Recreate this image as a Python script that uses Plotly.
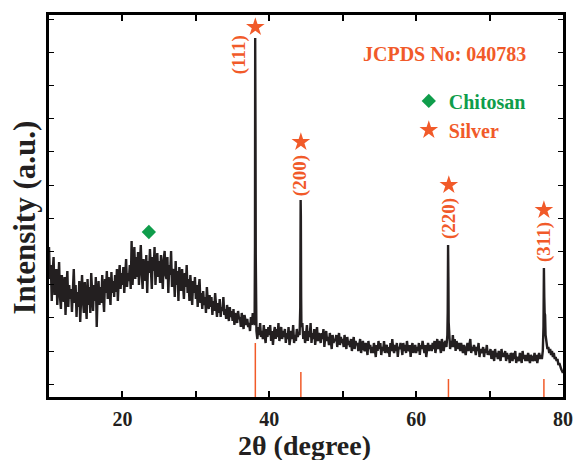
import plotly.graph_objects as go

# ---------------- data ----------------
theta_start = 10.0
theta_step = 0.125
bg_intensity = [
    150, 118, 132, 96, 125, 140, 102, 118,    # 10
    128, 92, 115, 135, 100, 88, 122, 108,     # 11
    95, 120, 82, 110, 126, 90, 112, 98,       # 12
    108, 85, 118, 128, 94, 112, 80, 105,      # 13
    90, 116, 75, 108, 122, 96, 84, 115,       # 14
    100, 78, 118, 92, 110, 84, 124, 98,       # 15
    86, 112, 96, 120, 70, 104, 116, 92,       # 16
    110, 94, 122, 100, 85, 118, 104, 126,     # 17
    98, 120, 108, 92, 125, 104, 116, 100,     # 18
    122, 105, 128, 96, 118, 132, 108, 124,    # 19
    112, 130, 104, 126, 138, 110, 124, 116,   # 20
    132, 108, 156, 112, 136, 150, 118, 140,   # 21
    120, 145, 112, 134, 152, 124, 108, 138,   # 22
    130, 116, 142, 104, 136, 124, 148, 118,   # 23
    108, 140, 126, 150, 112, 132, 144, 120,   # 24
    136, 114, 142, 126, 108, 138, 146, 122,   # 25
    118, 140, 104, 132, 122, 146, 110, 128,   # 26
    124, 100, 136, 112, 126, 96, 130, 118,    # 27
    106, 128, 114, 98, 124, 110, 132, 104,    # 28
    118, 96, 122, 108, 92, 116, 104, 120,     # 29
    98, 112, 90, 108, 118, 94, 104, 88,       # 30
    106, 92, 100, 84, 110, 96, 88, 102,       # 31
    90, 100, 82, 96, 86, 104, 92, 80,         # 32
    94, 84, 98, 80, 90, 86, 100, 82,          # 33
    88, 78, 92, 82, 76, 90, 80, 86,           # 34
    76, 88, 72, 84, 80, 74, 86, 78,           # 35
    80, 70, 84, 74, 68, 82, 76, 72,           # 36
    78, 70, 74, 66, 80, 72, 84, 76,           # 37
    72, 260, 66, 58, 70, 62, 74, 60,          # 38
    66, 58, 72, 62, 54, 68, 60, 70,           # 39
    62, 72, 56, 66, 52, 64, 70, 58,           # 40
    68, 60, 74, 56, 64, 70, 58, 66,           # 41
    60, 68, 54, 64, 58, 70, 52, 62,           # 42
    66, 58, 72, 54, 62, 56, 68, 60,           # 43
    64, 62, 150, 70, 74, 58, 66, 54,          # 44
    62, 72, 56, 66, 60, 74, 54, 64,           # 45
    58, 68, 52, 62, 70, 56, 64, 60,           # 46
    54, 64, 58, 68, 50, 60, 66, 56,           # 47
    60, 52, 64, 56, 48, 62, 54, 58,           # 48
    56, 62, 50, 58, 64, 52, 60, 54,           # 49
    58, 50, 62, 54, 48, 60, 52, 56,           # 50
    50, 58, 46, 54, 60, 48, 56, 52,           # 51
    54, 46, 52, 58, 44, 50, 56, 48,           # 52
    46, 54, 50, 42, 56, 48, 52, 44,           # 53
    50, 44, 54, 48, 40, 52, 46, 56,           # 54
    48, 54, 42, 50, 46, 56, 44, 50,           # 55
    52, 44, 50, 40, 54, 46, 58, 48,           # 56
    44, 52, 46, 54, 40, 50, 48, 54,           # 57
    50, 42, 54, 46, 52, 44, 56, 48,           # 58
    46, 52, 40, 50, 54, 44, 48, 52,           # 59
    44, 50, 46, 54, 42, 52, 48, 56,           # 60
    50, 44, 52, 40, 48, 54, 46, 50,           # 61
    52, 46, 54, 48, 56, 44, 50, 58,           # 62
    48, 56, 50, 44, 58, 52, 46, 54,           # 63
    56, 50, 62, 135, 60, 48, 56, 50,          # 64
    62, 50, 58, 46, 56, 52, 48, 54,           # 65
    46, 54, 50, 44, 52, 48, 42, 50,           # 66
    54, 46, 52, 58, 44, 50, 46, 52,           # 67
    48, 42, 50, 46, 54, 40, 48, 44,           # 68
    46, 50, 40, 48, 44, 52, 42, 46,           # 69
    42, 48, 38, 46, 44, 36, 48, 40,           # 70
    44, 38, 46, 42, 36, 48, 40, 44,           # 71
    40, 46, 36, 44, 38, 42, 34, 44,           # 72
    42, 36, 44, 38, 46, 34, 40, 38,           # 73
    36, 44, 40, 34, 46, 38, 42, 36,           # 74
    42, 36, 44, 38, 34, 42, 40, 36,           # 75
    38, 44, 36, 42, 34, 40, 44, 38,           # 76
    42, 38, 46, 110, 84, 62, 52, 48,          # 77
    50, 44, 48, 42, 46, 40, 44, 38,           # 78
    40, 36, 38, 32, 34, 30, 28, 26,           # 79
    24,                                       # 80
]

# extra points on the sharp Bragg peaks (2theta, intensity)
peak_theta = [38.05, 38.08, 38.11, 38.16, 38.20,
              44.22, 44.27, 44.30, 44.34,
              64.30, 64.35, 64.39, 64.43,
              77.34, 77.40, 77.45, 77.56]
peak_intensity = [150, 359, 340, 140, 85,
                  90, 197, 180, 100,
                  85, 152, 120, 75,
                  70, 129, 100, 82]

# Silver reference (JCPDS 040783) stick pattern
ref_theta = [38.1, 44.3, 64.4, 77.4]
ref_height = [54, 25, 18, 18]

# peak markers / labels
hkl_labels = ["(111)", "(200)", "(220)", "(311)"]
star_theta = [38.1, 44.3, 64.45, 77.4]
star_y = [370, 255, 212, 187]
label_theta = [35.9, 44.2, 64.47, 77.41]
label_y = [342, 221, 179, 155]

chitosan_theta = [23.6]
chitosan_y = [165]

# ---------------- figure ----------------
FONT = "Liberation Serif, Times New Roman, serif"
ORANGE = "#f15a29"
GREEN = "#0f9d4b"
BLACK = "#231f20"

bg_theta = [theta_start + theta_step * i for i in range(len(bg_intensity))]
pts = sorted(zip(bg_theta + peak_theta, bg_intensity + peak_intensity))
x_all = [p[0] for p in pts]
y_all = [p[1] for p in pts]

stick_x, stick_y = [], []
for t, h in zip(ref_theta, ref_height):
    stick_x += [t, t, None]
    stick_y += [0, h, None]

fig = go.Figure()
fig.add_trace(go.Scatter(x=stick_x, y=stick_y, mode="lines",
                         line=dict(color=ORANGE, width=1.5),
                         showlegend=False, hoverinfo="skip"))
fig.add_trace(go.Scatter(x=x_all, y=y_all, mode="lines",
                         line=dict(color=BLACK, width=2.4),
                         showlegend=False))
fig.add_trace(go.Scatter(x=chitosan_theta, y=chitosan_y, mode="markers",
                         marker=dict(symbol="diamond", size=11, color=GREEN),
                         name=f"<span style='color:{GREEN}'>Chitosan</span>"))
fig.add_trace(go.Scatter(x=star_theta, y=star_y, mode="markers",
                         marker=dict(symbol="star", size=14, color=ORANGE),
                         name=f"<span style='color:{ORANGE}'>Silver</span>"))

for lab, tx, ty in zip(hkl_labels, label_theta, label_y):
    fig.add_annotation(x=tx, y=ty, text=lab, textangle=-90, showarrow=False,
                       xanchor="center", yanchor="middle",
                       font=dict(family=FONT, size=19, color=ORANGE, weight="bold"))

fig.add_annotation(x=63.8, y=343, text="JCPDS No: 040783", showarrow=False,
                   xanchor="center", yanchor="middle",
                   font=dict(family=FONT, size=20, color=ORANGE, weight="bold"))

fig.add_annotation(xref="paper", yref="paper", x=-0.0486, y=0.47,
                   text="Intensity (a.u.)", textangle=-90, showarrow=False,
                   xanchor="center", yanchor="middle",
                   font=dict(family=FONT, size=31, color=BLACK, weight="bold"))
fig.add_annotation(xref="paper", yref="paper", x=0.498, y=-0.128,
                   text="2θ (degree)", showarrow=False,
                   xanchor="center", yanchor="middle",
                   font=dict(family=FONT, size=28, color=BLACK, weight="bold"))

fig.update_layout(
    width=575, height=460,
    margin=dict(l=49, r=12, t=15, b=63, autoexpand=False),
    paper_bgcolor="white", plot_bgcolor="white",
    showlegend=True,
    legend=dict(x=0.700, y=0.826, xanchor="left", yanchor="top",
                bgcolor="rgba(0,0,0,0)", borderwidth=0,
                font=dict(family=FONT, size=20, weight="bold"),
                tracegroupgap=0),
    xaxis=dict(range=[10, 80], showgrid=False, zeroline=False, automargin=False,
               showline=True, linecolor="black", linewidth=2.5, mirror="allticks",
               ticks="inside", ticklen=6, tickwidth=1.5, tickcolor="black",
               tickvals=[10, 20, 30, 40, 50, 60, 70, 80],
               ticktext=["", "20", "", "40", "", "60", "", "80"],
               ticklabelstandoff=2,
               tickfont=dict(family=FONT, size=20, color=BLACK, weight="bold")),
    yaxis=dict(range=[0, 382], showgrid=False, zeroline=False, automargin=False,
               showline=True, linecolor="black", linewidth=2.5, mirror="allticks",
               ticks="inside", ticklen=5, tickwidth=1.2, tickcolor="black",
               tick0=12.7, dtick=33.2, showticklabels=False),
)

fig.write_html("out.html",
               config={"displayModeBar": False},
               post_script="document.body.style.margin='0';document.body.style.padding='0';")
